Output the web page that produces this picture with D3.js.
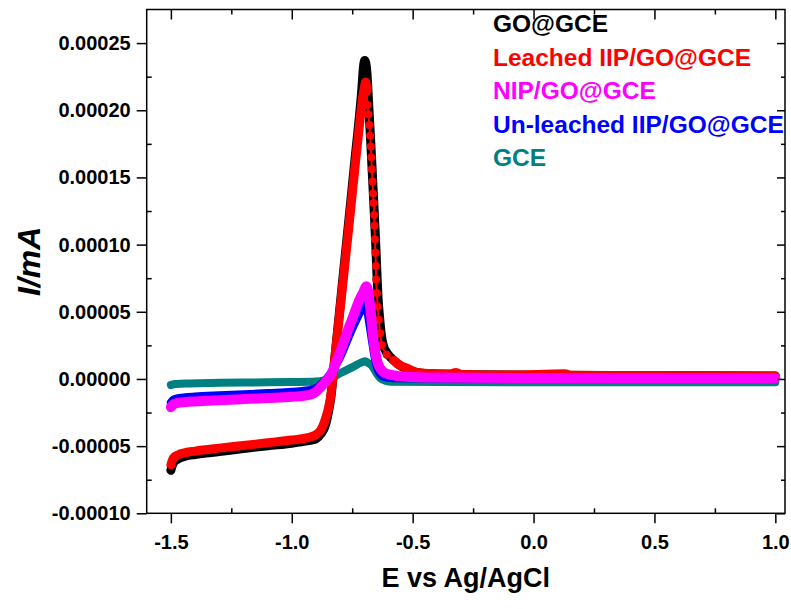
<!DOCTYPE html>
<html>
<head>
<meta charset="utf-8">
<script src="https://cdn.jsdelivr.net/npm/d3@7"></script>
<style>
  body { margin: 0; background: #fff; }
  text { font-family: "Liberation Sans", Arial, sans-serif; font-weight: bold; }
</style>
</head>
<body>
<div id="chart"></div>
<script>
// tick values
const xMajor = [-1.5, -1.0, -0.5, 0.0, 0.5, 1.0];
const xMinor = [-1.25, -0.75, -0.25, 0.25, 0.75];
const yMajor = [-0.0001, -0.00005, 0, 0.00005, 0.0001, 0.00015, 0.0002, 0.00025];
const yMinor = [-0.000075, -0.000025, 0.000025, 0.000075, 0.000125, 0.000175, 0.000225];

// legend
const names = ["GO@GCE", "Leached IIP/GO@GCE", "NIP/GO@GCE", "Un-leached IIP/GO@GCE", "GCE"];
const colors = ["#000000", "#ff0000", "#ff00ff", "#0000ff", "#008080"];

// [E (V), I]
const goGCE = [
  [-1.500, -6.80e-5], [-1.490, -6.25e-5], [-1.470, -5.95e-5], [-1.440, -5.75e-5],
  [-1.400, -5.62e-5], [-1.300, -5.40e-5], [-1.200, -5.18e-5], [-1.100, -4.97e-5],
  [-1.000, -4.78e-5], [-0.950, -4.65e-5], [-0.920, -4.55e-5], [-0.900, -4.45e-5],
  [-0.880, -4.10e-5], [-0.860, -3.40e-5], [-0.850, -2.60e-5], [-0.840, -1.60e-5],
  [-0.820, 1.90e-5], [-0.800, 5.45e-5], [-0.780, 9.00e-5], [-0.760, 1.25e-4],
  [-0.740, 1.61e-4], [-0.720, 1.96e-4], [-0.710, 2.16e-4], [-0.703, 2.33e-4],
  [-0.698, 2.37e-4], [-0.692, 2.33e-4], [-0.687, 2.22e-4], [-0.683, 2.08e-4],
  [-0.676, 1.85e-4], [-0.671, 1.68e-4], [-0.666, 1.50e-4], [-0.661, 1.32e-4],
  [-0.656, 1.13e-4], [-0.651, 9.3e-5], [-0.647, 7.5e-5], [-0.643, 6.0e-5],
  [-0.637, 4.6e-5], [-0.631, 3.5e-5], [-0.623, 2.6e-5], [-0.605, 1.9e-5],
  [-0.585, 1.5e-5], [-0.560, 1.1e-5], [-0.520, 7.0e-6], [-0.450, 4.0e-6],
  [-0.300, 3.2e-6], [0.000, 2.8e-6], [0.500, 2.5e-6], [1.000, 2.2e-6]
];

const leachedIIP = [
  [-1.500, -6.40e-5], [-1.490, -5.90e-5], [-1.470, -5.65e-5], [-1.440, -5.48e-5],
  [-1.400, -5.37e-5], [-1.300, -5.15e-5], [-1.200, -4.95e-5], [-1.100, -4.75e-5],
  [-1.000, -4.55e-5], [-0.950, -4.43e-5], [-0.920, -4.30e-5], [-0.900, -4.15e-5],
  [-0.880, -3.80e-5], [-0.865, -3.20e-5], [-0.850, -2.30e-5], [-0.840, -1.40e-5],
  [-0.820, 1.90e-5], [-0.800, 5.20e-5], [-0.780, 8.60e-5], [-0.760, 1.20e-4],
  [-0.740, 1.55e-4], [-0.720, 1.89e-4], [-0.708, 2.08e-4], [-0.700, 2.17e-4],
  [-0.694, 2.21e-4], [-0.690, 2.14e-4],
  [-0.687, 2.04e-4], [-0.683, 1.97e-4], [-0.679, 1.89e-4], [-0.676, 1.81e-4],
  [-0.673, 1.73e-4], [-0.671, 1.65e-4], [-0.669, 1.56e-4], [-0.666, 1.47e-4],
  [-0.664, 1.38e-4], [-0.662, 1.31e-4], [-0.659, 1.22e-4], [-0.658, 1.14e-4],
  [-0.656, 1.04e-4], [-0.654, 9.4e-5], [-0.652, 8.4e-5], [-0.651, 7.4e-5],
  [-0.648, 6.4e-5], [-0.645, 5.4e-5], [-0.640, 4.4e-5], [-0.634, 3.4e-5],
  [-0.627, 2.5e-5], [-0.607, 1.8e-5], [-0.579, 1.4e-5], [-0.552, 1.0e-5],
  [-0.524, 8.0e-6], [-0.500, 6.0e-6], [-0.470, 4.5e-6], [-0.420, 4.0e-6],
  [-0.350, 3.6e-6], [-0.320, 4.8e-6], [-0.300, 3.4e-6], [-0.100, 3.0e-6],
  [0.130, 3.8e-6], [0.150, 2.8e-6], [0.500, 2.5e-6], [1.000, 2.2e-6]
];

const nipGO = [
  [-1.500, -2.10e-5], [-1.490, -1.90e-5], [-1.475, -1.80e-5], [-1.440, -1.72e-5],
  [-1.400, -1.67e-5], [-1.300, -1.58e-5], [-1.200, -1.50e-5], [-1.100, -1.42e-5],
  [-1.000, -1.33e-5], [-0.950, -1.25e-5], [-0.920, -1.15e-5], [-0.900, -9.5e-6],
  [-0.880, -6.0e-6], [-0.860, -2.0e-6], [-0.840, 2.5e-6], [-0.813, 1.4e-5],
  [-0.786, 2.7e-5], [-0.760, 4.0e-5], [-0.745, 4.7e-5], [-0.720, 5.9e-5],
  [-0.703, 6.5e-5], [-0.692, 6.9e-5], [-0.685, 6.6e-5], [-0.676, 5.4e-5],
  [-0.662, 2.9e-5], [-0.648, 1.4e-5], [-0.635, 8.0e-6], [-0.620, 5.0e-6],
  [-0.590, 3.0e-6], [-0.540, 1.8e-6], [-0.400, 1.0e-6], [0.000, 7.0e-7],
  [1.000, 6.0e-7]
];

const unleachedIIP = [
  [-1.500, -1.75e-5], [-1.490, -1.55e-5], [-1.475, -1.45e-5], [-1.440, -1.36e-5],
  [-1.400, -1.31e-5], [-1.300, -1.22e-5], [-1.200, -1.14e-5], [-1.100, -1.05e-5],
  [-1.000, -9.6e-6], [-0.950, -8.8e-6], [-0.920, -8.0e-6], [-0.900, -6.8e-6],
  [-0.880, -4.0e-6], [-0.860, -5.0e-7], [-0.840, 4.0e-6], [-0.800, 1.6e-5],
  [-0.758, 3.4e-5], [-0.730, 4.5e-5], [-0.710, 5.2e-5], [-0.697, 5.65e-5],
  [-0.690, 5.3e-5], [-0.680, 4.2e-5], [-0.669, 2.9e-5], [-0.655, 1.4e-5],
  [-0.640, 5.0e-6], [-0.620, 1.5e-6], [-0.580, 5.0e-7], [-0.400, 3.0e-7],
  [1.000, 2.0e-7]
];

const gce = [
  [-1.500, -4.5e-6], [-1.480, -3.8e-6], [-1.420, -3.3e-6], [-1.300, -2.9e-6],
  [-1.150, -2.6e-6], [-1.000, -2.3e-6], [-0.900, -1.9e-6], [-0.870, -1.2e-6],
  [-0.840, 4.0e-7], [-0.800, 4.2e-6], [-0.745, 9.2e-6], [-0.710, 1.25e-5],
  [-0.696, 1.32e-5], [-0.685, 1.2e-5], [-0.669, 1.0e-5], [-0.650, 4.5e-6],
  [-0.634, 5.0e-7], [-0.610, -1.4e-6], [-0.590, -2.0e-6], [-0.400, -2.3e-6],
  [0.000, -2.4e-6], [1.000, -2.4e-6]
];

// set up dimensions
const svgWidth = 791,
    svgHeight = 609,
    plot = { left: 146.7, right: 785, top: 9.5, bottom: 513.3 };

const x = d3.scaleLinear().domain([-1.6, 1.04]).range([plot.left, plot.right]);
const y = d3.scaleLinear().domain([-0.0001, 0.000275]).range([plot.bottom, plot.top]);

const svg = d3.select("#chart")
    .append("svg")
    .attr("width", svgWidth)
    .attr("height", svgHeight);

const line = d3.line()
    .x(d => x(d[0]))
    .y(d => y(d[1]))
    .curve(d3.curveMonotoneX);

function thickLine(data, color, width) {
    svg.append("path")
        .datum(data)
        .attr("d", line)
        .attr("fill", "none")
        .attr("stroke", color)
        .attr("stroke-width", width)
        .attr("stroke-linejoin", "round")
        .attr("stroke-linecap", "round");
}

// draw order: black at the bottom, magenta on top
thickLine(goGCE, colors[0], 9);
thickLine(gce, colors[4], 8);

// red: solid band where points are dense, dots on the fast decay
const isDecay = d => d[0] > -0.690 && d[0] < -0.600;
svg.append("path")
    .datum(leachedIIP)
    .attr("d", line.defined(d => !isDecay(d)))
    .attr("fill", "none")
    .attr("stroke", colors[1])
    .attr("stroke-width", 9)
    .attr("stroke-linejoin", "round")
    .attr("stroke-linecap", "round");
line.defined(() => true);
svg.append("path")
    .datum(leachedIIP)
    .attr("d", line)
    .attr("fill", "none")
    .attr("stroke", colors[1])
    .attr("stroke-width", 2);
svg.selectAll("circle.red")
    .data(leachedIIP.filter(isDecay))
    .join("circle")
    .attr("class", "red")
    .attr("cx", d => x(d[0]))
    .attr("cy", d => y(d[1]))
    .attr("r", 4)
    .attr("fill", colors[1]);

thickLine(unleachedIIP, colors[3], 8);
thickLine(nipGO, colors[2], 10);

// axes
function styleAxis(g) {
    g.select(".domain").remove();
    g.selectAll("line").attr("stroke", "#000").attr("stroke-width", 1.5);
    g.selectAll("text").attr("fill", "#000").style("font-size", "20px");
}

svg.append("g")
    .attr("transform", `translate(0,${plot.bottom})`)
    .call(d3.axisBottom(x).tickValues(xMajor).tickSize(10).tickPadding(12).tickFormat(d => d.toFixed(1)))
    .call(styleAxis);
svg.append("g")
    .attr("transform", `translate(0,${plot.bottom})`)
    .call(d3.axisBottom(x).tickValues(xMinor).tickSize(-5).tickFormat(""))
    .call(styleAxis);
svg.append("g")
    .attr("transform", `translate(0,${plot.top})`)
    .call(d3.axisTop(x).tickValues(xMajor).tickSize(-10).tickFormat(""))
    .call(styleAxis);
svg.append("g")
    .attr("transform", `translate(0,${plot.top})`)
    .call(d3.axisTop(x).tickValues(xMinor).tickSize(-5).tickFormat(""))
    .call(styleAxis);

svg.append("g")
    .attr("transform", `translate(${plot.left},0)`)
    .call(d3.axisLeft(y).tickValues(yMajor).tickSize(10).tickPadding(6).tickFormat(d => d.toFixed(5)))
    .call(styleAxis);
svg.append("g")
    .attr("transform", `translate(${plot.left},0)`)
    .call(d3.axisLeft(y).tickValues(yMinor).tickSize(-5).tickFormat(""))
    .call(styleAxis);
svg.append("g")
    .attr("transform", `translate(${plot.right},0)`)
    .call(d3.axisRight(y).tickValues(yMajor).tickSize(-8).tickFormat(""))
    .call(styleAxis);
svg.append("g")
    .attr("transform", `translate(${plot.right},0)`)
    .call(d3.axisRight(y).tickValues(yMinor).tickSize(-4).tickFormat(""))
    .call(styleAxis);

// frame
svg.append("rect")
    .attr("x", plot.left)
    .attr("y", plot.top)
    .attr("width", plot.right - plot.left)
    .attr("height", plot.bottom - plot.top)
    .attr("fill", "none")
    .attr("stroke", "#000")
    .attr("stroke-width", 1.5);

// axis titles
svg.append("text")
    .attr("x", (plot.left + plot.right) / 2)
    .attr("y", 587)
    .attr("text-anchor", "middle")
    .style("font-size", "27px")
    .text("E vs Ag/AgCl");

svg.append("text")
    .attr("transform", `translate(40,${(plot.top + plot.bottom) / 2}) rotate(-90)`)
    .attr("text-anchor", "middle")
    .style("font-size", "32px")
    .style("font-style", "italic")
    .text("I/mA");

// legend
svg.selectAll("text.legend")
    .data(names)
    .join("text")
    .attr("class", "legend")
    .attr("x", 493)
    .attr("y", (d, i) => 32 + i * 33.5)
    .attr("fill", (d, i) => colors[i])
    .style("font-size", "24.5px")
    .text(d => d);
</script>
</body>
</html>
